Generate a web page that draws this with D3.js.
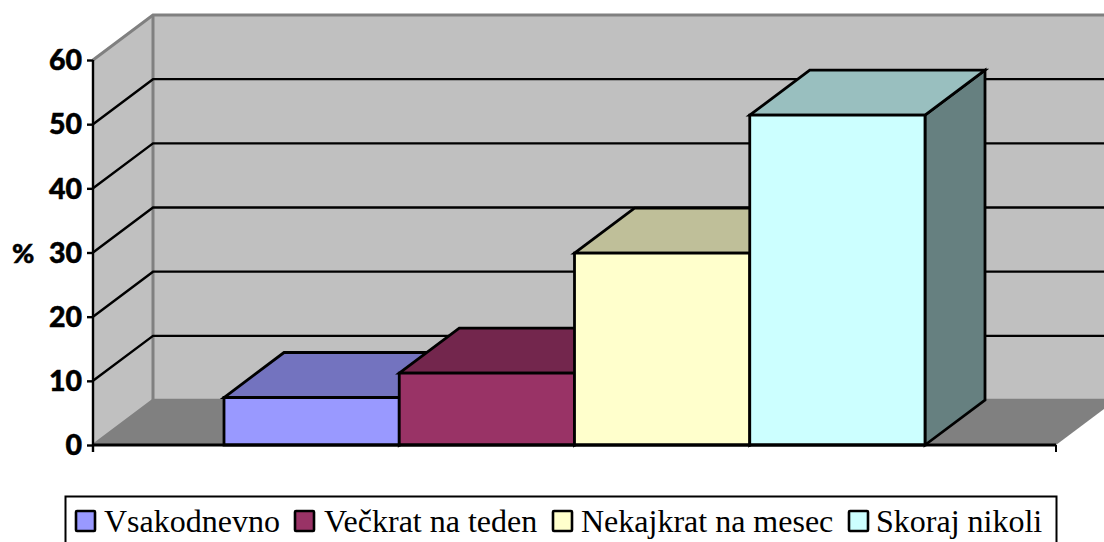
<!DOCTYPE html>
<html><head><meta charset="utf-8">
<script src="https://cdn.jsdelivr.net/npm/d3@7"></script>
<style>html,body{margin:0;padding:0;background:#fff;overflow:hidden}svg{display:block}</style>
</head><body><svg id="c" width="1104" height="542"></svg>
<script>
const seriesNames = ["Vsakodnevno","Večkrat na teden","Nekajkrat na mesec","Skoraj nikoli"];
const seriesValues = [7.4,11.2,29.9,51.4];
const frontColors = ["#9999ff","#993366","#ffffcc","#ccffff"];
const topColors = ["#7373bf","#73264d","#bfbf99","#99bfbf"];
const sideColors = ["#4d4d80","#4d1a33","#808066","#668080"];
const yTicks = [0,10,20,30,40,50,60];
const legendSwatchX = [75,294,552,848];
const legendTextX = [104,324,581,876];

const svg = d3.select("#c");
const y = d3.scaleLinear().domain([0,60]).range([445,60]);
const x = d3.scaleBand().domain(seriesNames).range([224,925]);
const dx = 60, dy = -45;
const left = 93, right = 1056, base = y(0);
const line = d3.line();
const poly = p => line(p) + "Z";

// walls and floor
svg.append("path").attr("d",poly([[left,base],[left+dx,base+dy],[left+dx,y(60)+dy],[left,y(60)]])).attr("fill","#c0c0c0");
svg.append("path").attr("d",poly([[left+dx,base+dy],[right+dx,base+dy],[right+dx,y(60)+dy],[left+dx,y(60)+dy]])).attr("fill","#c0c0c0");
svg.append("path").attr("d",poly([[left,base],[left+dx,base+dy],[right+dx,base+dy],[right,base]])).attr("fill","#808080");
// wall edges
const edge = (pts,w=2.2) => svg.append("path").attr("d",line(pts)).attr("fill","none").attr("stroke","#808080").attr("stroke-width",w);
edge([[left,y(60)],[left+dx,y(60)+dy],[right+dx,y(60)+dy]],3);
edge([[left+dx,y(60)+dy],[left+dx,base+dy]],3);
edge([[left,base],[left+dx,base+dy],[right+dx,base+dy]],2.4);
// gridlines
svg.append("g").selectAll("path").data(yTicks.filter(t=>t>0&&t<60)).join("path")
  .attr("d",t=>line([[left,y(t)],[left+dx,y(t)+dy],[right+dx,y(t)+dy]]))
  .attr("fill","none").attr("stroke","#000").attr("stroke-width",2.4);

// bars
const bars = svg.append("g").attr("stroke","#000").attr("stroke-width",2.8).attr("stroke-linejoin","miter");
seriesNames.forEach((s,i)=>{
  const x0 = x(s), x1 = x0 + x.bandwidth(), yt = y(seriesValues[i]);
  bars.append("path").attr("d",poly([[x1,base],[x1+dx,base+dy],[x1+dx,yt+dy],[x1,yt]])).attr("fill",sideColors[i]);
  bars.append("path").attr("d",poly([[x0,yt],[x0+dx,yt+dy],[x1+dx,yt+dy],[x1,yt]])).attr("fill",topColors[i]);
  bars.append("path").attr("d",poly([[x0,yt],[x1,yt],[x1,base],[x0,base]])).attr("fill",frontColors[i]);
});

// axes
const yAxis = d3.axisLeft(y).tickValues(yTicks).tickSize(6).tickPadding(5).tickSizeOuter(0);
const gy = svg.append("g").attr("transform",`translate(${left},0)`).call(yAxis);
gy.select(".domain").remove();
gy.selectAll("line").attr("stroke","#000").attr("stroke-width",2.4);
gy.selectAll("text").attr("font-family","Lato, 'Open Sans', sans-serif").attr("font-weight",900).attr("font-size",28.5).attr("fill","#000").attr("stroke","#000").attr("stroke-width",0.5).attr("dy","0.34em");
svg.append("path").attr("d",line([[left,y(60)],[left,base+7]])).attr("stroke","#000").attr("stroke-width",2.4);
svg.append("path").attr("d",line([[left,base],[right,base]])).attr("stroke","#000").attr("stroke-width",3);
svg.append("path").attr("d",line([[right,base],[right,base+7]])).attr("stroke","#000").attr("stroke-width",2);
svg.append("text").text("%").attr("x",12).attr("y",263).attr("font-family","Lato, 'Open Sans', sans-serif").attr("font-weight",900).attr("font-size",27).attr("fill","#000").attr("stroke","#000").attr("stroke-width",0.5);

// legend
svg.append("rect").attr("x",65.5).attr("y",496.5).attr("width",991).attr("height",60).attr("fill","#fff").attr("stroke","#000").attr("stroke-width",2);
const lg = svg.append("g");
seriesNames.forEach((s,i)=>{
  lg.append("rect").attr("x",legendSwatchX[i]+1).attr("y",511).attr("width",19).attr("height",20).attr("fill",frontColors[i]).attr("stroke","#000").attr("stroke-width",2.6).attr("rx",1);
  lg.append("text").text(s).attr("x",legendTextX[i]).attr("y",532).attr("font-family","'Liberation Serif', serif").attr("font-size",32).attr("fill","#000");
});
</script></body></html>
